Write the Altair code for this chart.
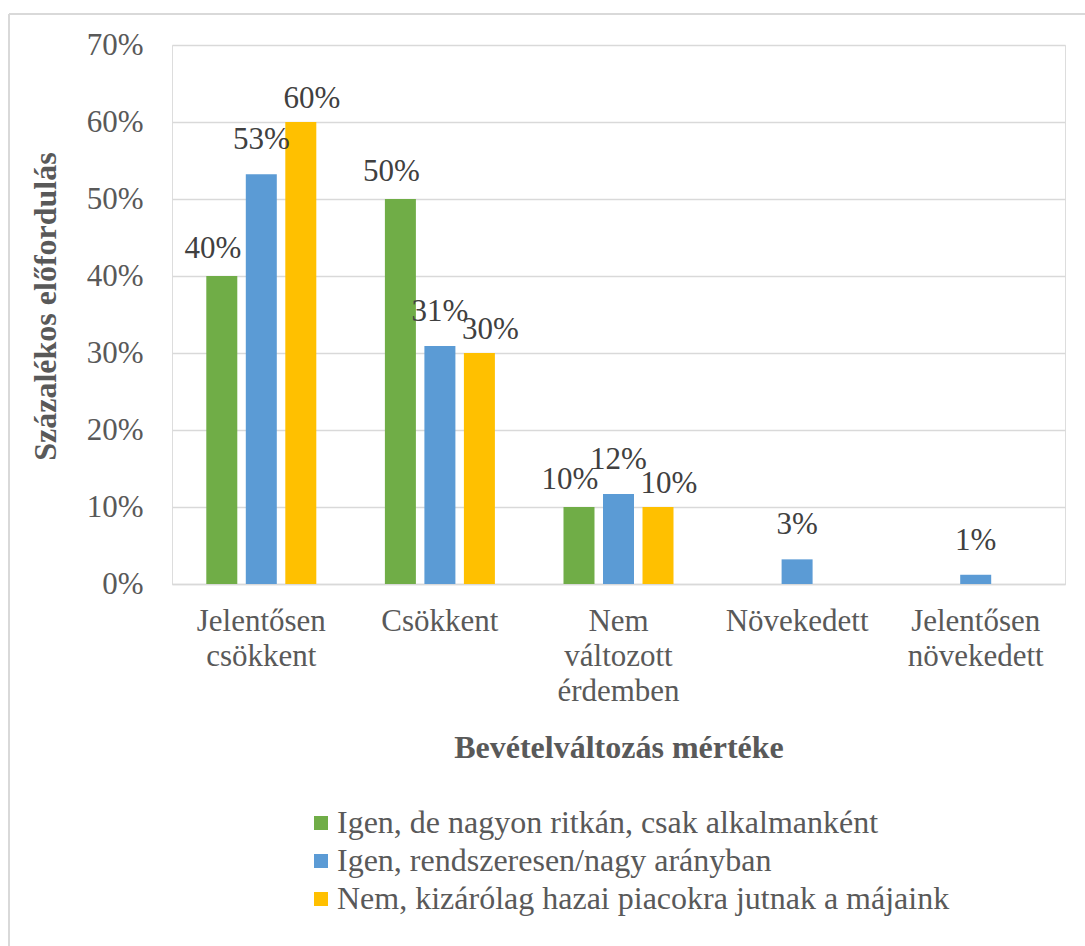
import altair as alt
import pandas as pd

categories = ["Jelentősen csökkent", "Csökkent", "Nem változott érdemben", "Növekedett", "Jelentősen növekedett"]
series = [
    "Igen, de nagyon ritkán, csak alkalmanként",
    "Igen, rendszeresen/nagy arányban",
    "Nem, kizárólag hazai piacokra jutnak a májaink",
]
green_vals = [0.40, 0.50, 0.10, 0.0, 0.0]
blue_vals = [0.532, 0.309, 0.117, 0.032, 0.012]
yellow_vals = [0.60, 0.30, 0.10, 0.0, 0.0]
colors = ["#70AD47", "#5B9BD5", "#FFC000"]
y_ticks = [0, 0.1, 0.2, 0.3, 0.4, 0.5, 0.6, 0.7]

rows = []
for s, vals in zip(series, [green_vals, blue_vals, yellow_vals]):
    for c, v in zip(categories, vals):
        rows.append({"category": c, "series": s, "value": v})
df = pd.DataFrame(rows)

FONT = "Liberation Serif"
FS = 31

x_enc = alt.X(
    "category:N",
    sort=categories,
    scale=alt.Scale(paddingInner=0, paddingOuter=0),
    axis=alt.Axis(
        title="Bevételváltozás mértéke",
        labelExpr="split(datum.label, ' ')",
        labelAngle=0,
        labelFont=FONT,
        labelFontSize=FS,
        labelColor="#595959",
        labelLineHeight=35,
        labelPadding=22,
        ticks=False,
        domainColor="#D9D9D9",
        domainWidth=1.5,
        grid=False,
        titleFont=FONT,
        titleFontSize=32,
        titleFontWeight="bold",
        titleColor="#595959",
        titleY=173,
        titleBaseline="alphabetic",
    ),
)
xo_enc = alt.XOffset(
    "series:N", sort=series, scale=alt.Scale(paddingInner=0.215, paddingOuter=0.868)
)
y_enc = alt.Y(
    "value:Q",
    scale=alt.Scale(domain=[0, 0.7], nice=False),
    axis=alt.Axis(
        title="Százalékos előfordulás",
        values=y_ticks,
        format=".0%",
        labelFont=FONT,
        labelFontSize=FS,
        labelColor="#595959",
        labelPadding=29,
        ticks=False,
        domain=False,
        gridColor="#D9D9D9",
        gridWidth=1.5,
        titleFont=FONT,
        titleFontSize=32,
        titleFontWeight="bold",
        titleColor="#595959",
        titleX=-117,
        titleY=261,
        titleBaseline="alphabetic",
    ),
)

bars = alt.Chart(df).mark_bar(size=31).encode(
    x=x_enc,
    xOffset=xo_enc,
    y=y_enc,
    color=alt.Color(
        "series:N",
        sort=series,
        scale=alt.Scale(domain=series, range=colors),
        legend=alt.Legend(
            title=None,
            orient="none",
            legendX=133,
            legendY=762,
            direction="vertical",
            symbolType="square",
            symbolSize=196,
            symbolStrokeWidth=0,
            symbolOpacity=1,
            labelFont=FONT,
            labelFontSize=32,
            labelColor="#595959",
            labelOffset=0,
            rowPadding=6,
            padding=0,
            labelLimit=800,
        ),
    ),
)


def label_layer(series_name, dx, dy):
    return (
        alt.Chart(df)
        .transform_filter(
            alt.expr.toBoolean(
                (alt.datum.value > 0) & (alt.datum.series == series_name)
            )
        )
        .mark_text(
            font=FONT,
            fontSize=FS,
            color="#404040",
            baseline="alphabetic",
            dx=dx,
            dy=dy,
        )
        .encode(
            x=alt.X("category:N", sort=categories),
            xOffset=alt.XOffset("series:N", sort=series),
            y="value:Q",
            text=alt.Text("value:Q", format=".0%"),
        )
    )


labels_green = label_layer(series[0], -9, -18)
labels_blue = label_layer(series[1], 0, -25)
labels_yellow = label_layer(series[2], 11, -14)

frame_data = alt.Data(values=[{"k": 1}])
frame_top = alt.Chart(frame_data).mark_rule(color="#D9D9D9", strokeWidth=2).encode(
    x=alt.value(-163), x2=alt.value(913), y=alt.value(-31)
)
frame_left = alt.Chart(frame_data).mark_rule(color="#D9D9D9", strokeWidth=2).encode(
    x=alt.value(-163), y=alt.value(-31), y2=alt.value(901)
)

chart = (
    alt.layer(bars, labels_green, labels_blue, labels_yellow, frame_top, frame_left)
    .properties(
        width=893,
        height=539,
        autosize=alt.AutoSizeParams(type="none"),
        padding={"left": 172, "top": 45, "right": 20, "bottom": 362},
    )
    .configure_view(stroke=None)
    .configure(background="white")
)

chart.save("out.html", embed_options={"renderer": "svg", "actions": False})
